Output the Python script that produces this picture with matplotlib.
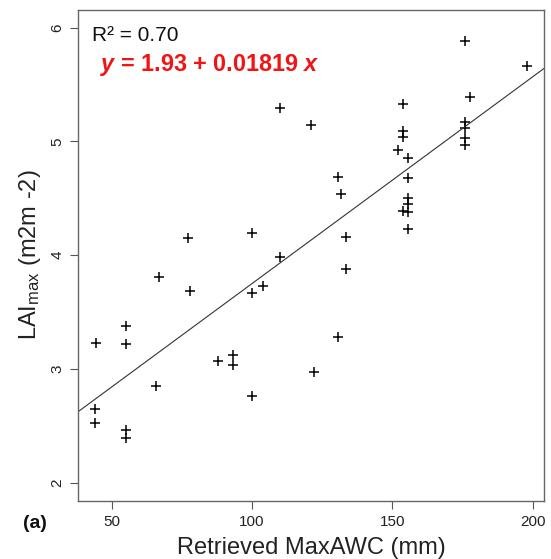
import numpy as np
import matplotlib
matplotlib.use('Agg')
import matplotlib.pyplot as plt

plt.rcParams['font.family'] = ['Liberation Sans', 'DejaVu Sans']
plt.rcParams['mathtext.default'] = 'regular'
plt.rcParams['mathtext.fontset'] = 'custom'
plt.rcParams['mathtext.it'] = 'Liberation Sans:italic:bold'
plt.rcParams['mathtext.rm'] = 'Liberation Sans'

# Retrieved MaxAWC (mm) vs LAImax
maxawc = [44.2, 44.2, 44.4, 55.3, 55.3, 55.1, 55.1, 66.0, 66.9, 77.9,
          77.1, 88.0, 93.3, 93.3, 100.1, 100.2, 104.0, 100.1, 110.0, 110.0,
          120.9, 130.5, 131.7, 133.4, 133.4, 130.5, 122.2, 153.9, 153.9, 153.9,
          152.1, 155.5, 155.5, 155.5, 155.5, 153.9, 155.5, 155.5, 175.9, 197.9,
          177.7, 175.9, 175.9, 175.9, 175.9]
laimax = [2.52, 2.65, 3.23, 3.38, 3.22, 2.46, 2.39, 2.85, 3.81, 3.68,
          4.15, 3.07, 3.12, 3.03, 2.76, 3.67, 3.73, 4.19, 5.29, 3.98,
          5.14, 4.69, 4.54, 4.16, 3.88, 3.28, 2.97, 5.33, 5.09, 5.04,
          4.92, 4.85, 4.68, 4.50, 4.45, 4.39, 4.38, 4.23, 5.88, 5.66,
          5.39, 5.17, 5.12, 5.03, 4.97]

# fitted line as printed on the chart
intercept = 1.93
slope = 0.01819
r2 = 0.70

xticks = [50, 100, 150, 200]
yticks = [2, 3, 4, 5, 6]

fig = plt.figure(figsize=(5.51, 5.59), dpi=100)
ax = fig.add_axes([0.1416, 0.1043, 0.8457, 0.8787])

ax.plot(maxawc, laimax, '+', color='black', markersize=7.5, markeredgewidth=1.1)

# R style: data range padded by 4 %
xmin, xmax = min(maxawc), max(maxawc)
pad = 0.04 * (xmax - xmin)
ax.set_xlim(xmin - pad, xmax + pad)
ax.set_ylim(2 - 0.16, 6 + 0.16)

xs = np.array(ax.get_xlim())
ax.plot(xs, intercept + slope * xs, color='#333333', linewidth=0.8)

ax.set_xticks(xticks)
ax.set_yticks(yticks)
ax.tick_params(axis='both', direction='out', length=6, width=0.8,
               color='#555555', labelsize=11, labelcolor='#222222', pad=4)
for lab in ax.get_yticklabels():
    lab.set_rotation(90)
    lab.set_va('center')
for sp in ax.spines.values():
    sp.set_color('#666666')
    sp.set_linewidth(1.0)

ax.set_xlabel('Retrieved MaxAWC (mm)', fontsize=17, color='#222222', labelpad=6)
ax.set_ylabel(r'LAI$_{max}$ (m2m -2)', fontsize=17, color='#222222', labelpad=5)

ax.text(0.03, 0.966, f'R² = {r2:.2f}', transform=ax.transAxes,
        fontsize=15, color='#111111', ha='left', va='top')
ax.text(0.047, 0.913,
        rf'$\mathit{{y}}$ = {intercept:.2f} + {slope:.5f} $\mathit{{x}}$',
        transform=ax.transAxes, fontsize=16.8, fontweight='bold', color='#f01414',
        ha='left', va='top')

fig.text(0.042, 0.064, '(a)', fontsize=14, fontweight='bold', color='#111111',
         ha='left', va='center')

fig.savefig('out.png', dpi=100)
